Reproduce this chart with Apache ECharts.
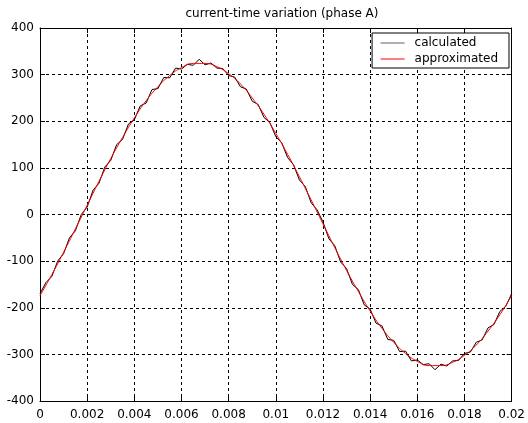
<!DOCTYPE html>
<html>
<head>
<meta charset="utf-8">
<script src="https://cdn.jsdelivr.net/npm/echarts@6/dist/echarts.min.js"></script>
<style>html,body{margin:0;padding:0;background:#fff}#c{width:528px;height:423px}</style>
</head>
<body>
<div id="c"></div>
<script>
// time values (s)
var tApprox = [0,0.0005,0.001,0.0015,0.002,0.0025,0.003,0.0035,0.004,0.0045,0.005,0.0055,0.006,0.0065,0.007,0.0075,0.008,0.0085,0.009,0.0095,0.01,0.0105,0.011,0.0115,0.012,0.0125,0.013,0.0135,0.014,0.0145,0.015,0.0155,0.016,0.0165,0.017,0.0175,0.018,0.0185,0.019,0.0195,0.02];
var approximated = [-174,-129,-81,-31,20,71,120,165,207,244,274,298,315,324,324,317,302,280,250,215,174,129,81,31,-20,-71,-120,-165,-207,-244,-274,-298,-315,-324,-324,-317,-302,-280,-250,-215,-174];
var tCalc = [0,0.00025,0.0005,0.00075,0.001,0.00125,0.0015,0.00175,0.002,0.00225,0.0025,0.00275,0.003,0.00325,0.0035,0.00375,0.004,0.00425,0.0045,0.00475,0.005,0.00525,0.0055,0.00575,0.006,0.00625,0.0065,0.00675,0.007,0.00725,0.0075,0.00775,0.008,0.00825,0.0085,0.00875,0.009,0.00925,0.0095,0.00975,0.01,0.01025,0.0105,0.01075,0.011,0.01125,0.0115,0.01175,0.012,0.01225,0.0125,0.01275,0.013,0.01325,0.0135,0.01375,0.014,0.01425,0.0145,0.01475,0.015,0.01525,0.0155,0.01575,0.016,0.01625,0.0165,0.01675,0.017,0.01725,0.0175,0.01775,0.018,0.01825,0.0185,0.01875,0.019,0.01925,0.0195,0.01975,0.02];
var calculated = [-170,-146,-133,-100,-84,-50,-35,0,16,52,67,102,116,150,161,194,203,233,239,268,270,294,293,314,312,322,320,333,321,325,314,313,298,295,274,269,243,236,208,197,167,154,122,107,74,60,25,10,-16,-52,-67,-102,-116,-150,-161,-194,-203,-233,-239,-268,-270,-294,-293,-314,-312,-322,-320,-333,-321,-325,-314,-313,-298,-295,-274,-269,-243,-236,-208,-197,-170];
var xTickLabels = ['0','0.002','0.004','0.006','0.008','0.01','0.012','0.014','0.016','0.018','0.02'];
var yTickLabels = ['-400','-300','-200','-100','0','100','200','300','400'];
var seriesNames = ['calculated','approximated'];

function zip(a,b){var r=[];for(var i=0;i<a.length;i++)r.push([a[i],b[i]]);return r;}
var font = 'DejaVu Sans, sans-serif';
var chart = echarts.init(document.getElementById('c'));
var gridLine = {show:true,lineStyle:{color:'#000',type:[3,3],width:1}};
var tick = {show:true,inside:true,length:5,lineStyle:{color:'#000'}};
chart.setOption({
  animation:false,
  backgroundColor:'#fff',
  title:{text:'current-time variation (phase A)',left:277,top:3,textAlign:'center',
    textStyle:{fontFamily:font,fontSize:12,fontWeight:'normal',color:'#000'}},
  legend:{
    data:[{name:seriesNames[0],lineStyle:{color:'#606060',width:1}},{name:seriesNames[1],lineStyle:{color:'#ff0000',width:1}}],
    orient:'vertical',right:19,top:33,
    backgroundColor:'#fff',borderColor:'#000',borderWidth:1,borderRadius:0,
    padding:[4,11,3,8],itemGap:4,itemWidth:24,itemHeight:14,
    itemStyle:{opacity:0},
    lineStyle:{width:1},
    textStyle:{fontFamily:font,fontSize:12,color:'#000',padding:[0,0,0,5]}},
  grid:{left:40,top:28,width:475,height:373,show:false},
  xAxis:[{type:'value',min:0,max:0.02,interval:0.002,
    axisLine:{show:true,onZero:false,lineStyle:{color:'#000'}},
    axisTick:tick,
    axisLabel:{color:'#000',fontFamily:font,fontSize:12,margin:8,
      formatter:function(v){return xTickLabels[Math.round(v/0.002)];}},
    splitLine:gridLine},
   {type:'value',position:'top',min:0,max:0.02,interval:0.002,
    axisLine:{show:true,onZero:false,lineStyle:{color:'#000'}},
    axisTick:tick,axisLabel:{show:false},splitLine:{show:false}}],
  yAxis:[{type:'value',min:-400,max:400,interval:100,
    axisLine:{show:true,onZero:false,lineStyle:{color:'#000'}},
    axisTick:tick,
    axisLabel:{color:'#000',fontFamily:font,fontSize:12,margin:6,
      formatter:function(v){return yTickLabels[Math.round((v+400)/100)];}},
    splitLine:gridLine},
   {type:'value',position:'right',min:-400,max:400,interval:100,
    axisLine:{show:true,onZero:false,lineStyle:{color:'#000'}},
    axisTick:tick,axisLabel:{show:false},splitLine:{show:false}}],
  series:[
    {name:seriesNames[0],type:'line',data:zip(tCalc,calculated),symbol:'none',
      lineStyle:{color:'#000',width:1},itemStyle:{color:'#000'},z:3},
    {name:seriesNames[1],type:'line',data:zip(tApprox,approximated),symbol:'none',smooth:true,
      lineStyle:{color:'#ff0000',width:1},itemStyle:{color:'#ff0000'},z:4}
  ]
});
</script>
</body>
</html>
